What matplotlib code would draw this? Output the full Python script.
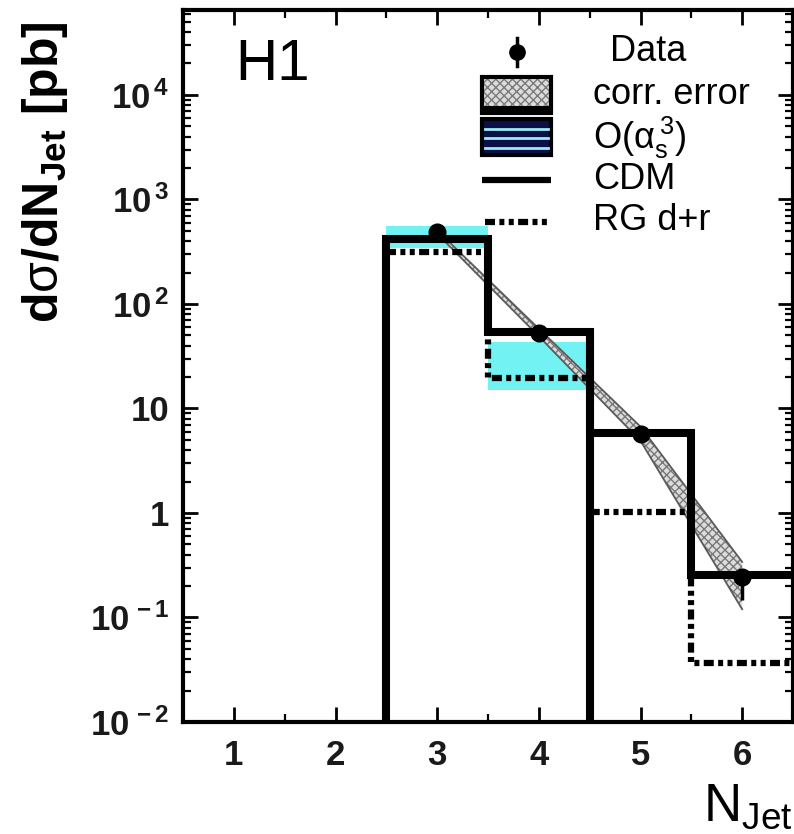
import matplotlib
matplotlib.use('Agg')
import matplotlib.pyplot as plt
import numpy as np
from matplotlib.patches import Rectangle
from matplotlib.ticker import FixedLocator, FixedFormatter, LogLocator, NullFormatter, MultipleLocator

plt.rcParams['font.family'] = ['Liberation Sans', 'DejaVu Sans']
plt.rcParams['mathtext.fontset'] = 'custom'
plt.rcParams['mathtext.rm'] = 'Liberation Sans'
plt.rcParams['mathtext.it'] = 'Liberation Sans'
plt.rcParams['mathtext.bf'] = 'Liberation Sans:bold'
plt.rcParams['hatch.linewidth'] = 1.0

# ---- data ----
n_jet = [3, 4, 5, 6]
edges = [2.5, 3.5, 4.5, 5.5, 6.5]
data = [489, 53, 5.7, 0.244]
data_err_lo = [25, 4, 0.6, 0.097]
data_err_hi = [25, 4, 0.6, 0.05]
corr_lo = [470, 49, 4.9, 0.12]
corr_hi = [505, 58, 6.7, 0.34]
nlo_lo = [340, 15]
nlo_hi = [560, 43]
cdm = [420, 54, 5.8, 0.254]
rg = [315, 19.6, 1.02, 0.0367]
ytick_vals = [1e-2, 1e-1, 1, 10, 1e2, 1e3, 1e4]
ytick_labels = [r'$\mathbf{10^{\,-2}}$', r'$\mathbf{10^{\,-1}}$', '1', '10',
                r'$\mathbf{10^{\,2}}$', r'$\mathbf{10^{\,3}}$', r'$\mathbf{10^{\,4}}$']
xtick_vals = [1, 2, 3, 4, 5, 6]
legend_labels = ['Data', 'corr. error', r'O($\alpha_{s}^{\,3}$)', 'CDM', 'RG d+r']

YMIN, YMAX = 1e-2, 6.5e4

fig = plt.figure(figsize=(7.94, 8.34), dpi=100)
ax = fig.add_axes([183/794, 112/834, 610/794, 712/834])
ax.set_yscale('log')
ax.set_xlim(0.5, 6.5)
ax.set_ylim(YMIN, YMAX)

# O(alpha_s^3) band
for i in range(len(nlo_lo)):
    ax.fill_between([edges[i], edges[i+1]], nlo_lo[i], nlo_hi[i],
                    color='#72f2f2', lw=0, zorder=1)

# correlated error band
ax.fill_between(n_jet, corr_lo, corr_hi, facecolor='#dcdcdc', edgecolor='#7a7a7a',
                hatch='xxxx', lw=0, zorder=2)
ax.plot(n_jet, corr_lo, color='#5a5a5a', lw=1.3, zorder=2)
ax.plot(n_jet, corr_hi, color='#5a5a5a', lw=1.3, zorder=2)

# CDM histogram
xs = [edges[0]]
ys = [YMIN]
for i, v in enumerate(cdm):
    xs += [edges[i], edges[i+1]]
    ys += [v, v]
ax.plot(xs, ys, color='k', lw=5.8, solid_joinstyle='miter', solid_capstyle='butt', zorder=4)
ax.plot([edges[2], edges[2]], [YMIN, cdm[1]], color='k', lw=5.8, solid_capstyle='butt', zorder=4)

# RG d+r histogram
xr, yr = [], []
for i, v in enumerate(rg):
    xr += [edges[i], edges[i+1]]
    yr += [v, v]
ax.plot(xr, yr, color='k', lw=4.5, dashes=(1.6, 0.7, 0.8, 0.7, 0.8, 0.7),
        dash_capstyle='butt', zorder=3)

# data
ax.errorbar(n_jet, data, yerr=[data_err_lo, data_err_hi], fmt='o', color='k',
            ms=12, elinewidth=2.5, capsize=0, zorder=6)

# axes styling
for s in ax.spines.values():
    s.set_linewidth(3)
ax.xaxis.set_major_locator(FixedLocator(xtick_vals))
ax.xaxis.set_minor_locator(MultipleLocator(0.5))
ax.yaxis.set_major_locator(FixedLocator(ytick_vals))
ax.yaxis.set_major_formatter(FixedFormatter(ytick_labels))
ax.yaxis.set_minor_locator(LogLocator(base=10, subs=np.arange(2, 10)))
ax.yaxis.set_minor_formatter(NullFormatter())
ax.tick_params(which='both', direction='in', top=True, right=True, colors='k')
ax.tick_params(which='major', length=11, width=2, labelsize=25, pad=10)
ax.tick_params(which='minor', length=6, width=1.6)
ax.tick_params(axis='x', which='major', pad=12)
for lab in ax.get_xticklabels() + ax.get_yticklabels():
    lab.set_fontweight('bold')
    lab.set_color('#1a1a1a')

# H1
ax.text(0.085, 0.923, 'H1', transform=ax.transAxes, fontsize=42, ha='left', va='center')

# manual legend
def axp(px, py):
    return ((px - 183) / 610, (722 - py) / 712)

tr = ax.transAxes
# Data
x0, y0 = axp(517, 52)
_, ytop = axp(517, 38)
_, ybot = axp(517, 66)
ax.plot([x0, x0], [ybot, ytop], color='k', lw=2.5, transform=tr, clip_on=False, zorder=7)
ax.plot([x0], [y0], 'o', color='k', ms=11, transform=tr, clip_on=False, zorder=7)
# corr. error box
bx0, by0 = axp(482, 113)
bx1, by1 = axp(551, 77)
ax.add_patch(Rectangle((bx0, by0), bx1 - bx0, by1 - by0, transform=tr, facecolor='#dcdcdc',
                       edgecolor='#7a7a7a', hatch='xxxx', lw=0, zorder=7))
ax.add_patch(Rectangle((bx0, by0), bx1 - bx0, by1 - by0, transform=tr, facecolor='none',
                       edgecolor='k', lw=3, zorder=8))
_, bb = axp(482, 106)
ax.add_patch(Rectangle((bx0, by0), bx1 - bx0, bb - by0, transform=tr, facecolor='k',
                       edgecolor='k', lw=0, zorder=8))
# O(as^3) box
ox0, oy0 = axp(482, 155)
ox1, oy1 = axp(551, 119)
ax.add_patch(Rectangle((ox0, oy0), ox1 - ox0, oy1 - oy0, transform=tr, facecolor='#0c1048',
                       edgecolor='k', lw=3, zorder=7))
for py in [129, 138, 148]:
    _, yy = axp(0, py)
    ax.plot([ox0 + 0.005, ox1 - 0.005], [yy, yy], color='#9fe8f0', lw=2, transform=tr, zorder=8)
# CDM line
_, yc = axp(0, 180)
ax.plot([bx0, bx1], [yc, yc], color='k', lw=4.5, transform=tr, solid_capstyle='butt', zorder=7)
# RG line
_, yrg = axp(0, 222)
lx0, _ = axp(485, 0)
ax.plot([lx0, bx1], [yrg, yrg], color='k', lw=4.5, dashes=(1.6, 0.7, 0.8, 0.7, 0.8, 0.7),
        dash_capstyle='butt', transform=tr, zorder=7)

text_pos = [(610, 52), (593, 95), (593, 138), (593, 180), (593, 220)]
for lab, (px, py) in zip(legend_labels, text_pos):
    tx, ty = axp(px, py)
    ax.text(tx, ty, lab, transform=tr, fontsize=26, ha='left', va='center', zorder=9)

# axis labels
fig.text(45/794, 1 - 172/834, r'd$\sigma$/dN$_{\mathbf{Jet}}$ [pb]', rotation=90,
         fontsize=36, fontweight='bold', ha='center', va='center')
fig.text(793/794, 2/834, r'N$_{\mathrm{Jet}}$', fontsize=38, ha='right', va='bottom')

fig.savefig('out.png', dpi=100)
